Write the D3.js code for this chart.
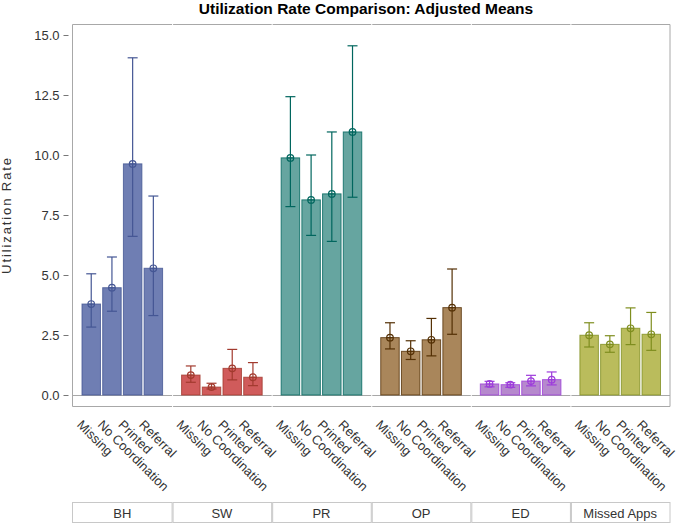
<!DOCTYPE html>
<html>
<head>
<meta charset="utf-8">
<script src="https://cdn.jsdelivr.net/npm/d3@7"></script>
<style>
  html, body { margin: 0; padding: 0; background: #fff; }
  svg { display: block; font-family: "Liberation Sans", Arial, sans-serif; }
</style>
</head>
<body>
<svg id="chart" width="685" height="524"></svg>
<script>
// ---- data ----
const groups = ["BH", "SW", "PR", "OP", "ED", "Missed Apps"];
const types = ["Missing", "No Coordination", "Printed", "Referral"];
const meanRates = [
  [3.79, 4.47, 9.63, 5.28],
  [0.83, 0.33, 1.11, 0.74],
  [9.88, 8.13, 8.38, 10.96],
  [2.39, 1.82, 2.30, 3.64],
  [0.46, 0.43, 0.58, 0.64],
  [2.49, 2.11, 2.78, 2.53]
];
const lowerCL = [
  [2.83, 3.49, 6.61, 3.31],
  [0.53, 0.25, 0.63, 0.39],
  [7.85, 6.65, 6.40, 8.24],
  [1.92, 1.48, 1.63, 2.53],
  [0.34, 0.32, 0.38, 0.42],
  [2.00, 1.78, 2.10, 1.86]
];
const upperCL = [
  [5.05, 5.75, 14.05, 8.29],
  [1.21, 0.49, 1.90, 1.35],
  [12.43, 10.00, 10.96, 14.55],
  [3.01, 2.26, 3.19, 5.25],
  [0.57, 0.51, 0.82, 0.96],
  [3.01, 2.47, 3.63, 3.44]
];
const yTicks = [0, 2.5, 5, 7.5, 10, 12.5, 15];
const fillColors = ["#6F7EB3", "#D05B5B", "#66A5A0", "#A9865B", "#B689CD", "#BABC5C"];
const lineColors = ["#445694", "#A23A2E", "#01665E", "#543005", "#9D3CDB", "#7F8E1F"];

// ---- layout ----
const svg = d3.select("#chart");
const plotLeft = 72.5, plotRight = 670, plotTop = 24.5, plotBottom = 406.5, zeroY = 395;
const frameColor = "#A8A8A8";
const textColor = "#333";

const x0 = d3.scaleBand().domain(groups).range([plotLeft, plotRight]).padding(0);
const x1 = d3.scaleBand().domain(types).range([9, x0.bandwidth() - 9]).paddingInner(0.06).paddingOuter(0);
const y = d3.scaleLinear().domain([0, 15]).range([zeroY, 35]);

// title
svg.append("text")
  .attr("x", 366).attr("y", 14)
  .attr("text-anchor", "middle")
  .attr("font-weight", "bold").attr("font-size", 15.5)
  .attr("fill", "#000")
  .text("Utilization Rate Comparison: Adjusted Means");

// y axis label
svg.append("text")
  .attr("transform", `translate(10.5,${(35 + zeroY) / 2}) rotate(-90)`)
  .attr("text-anchor", "middle")
  .attr("font-size", 13).attr("letter-spacing", 1.9).attr("fill", textColor)
  .text("Utilization Rate");

// y axis ticks
const yAxis = d3.axisLeft(y).tickValues(yTicks).tickFormat(d3.format(".1f")).tickSize(5).tickPadding(4);
const yg = svg.append("g").attr("transform", "translate(68.5,0)").call(yAxis);
yg.select(".domain").remove();
yg.selectAll(".tick line").attr("stroke", "#777");
yg.selectAll(".tick text").attr("font-size", 13).attr("fill", textColor).attr("font-family", "Liberation Sans, Arial, sans-serif");

// frame lines
svg.append("line").attr("x1", plotLeft).attr("x2", plotLeft).attr("y1", plotTop).attr("y2", plotBottom).attr("stroke", frameColor);
svg.append("line").attr("x1", plotRight).attr("x2", plotRight).attr("y1", plotTop).attr("y2", plotBottom).attr("stroke", frameColor);

groups.forEach((g, gi) => {
  const gx = x0(g);
  const panel = svg.append("g").attr("transform", `translate(${gx},0)`);
  const w = x0.bandwidth();
  [plotTop, zeroY + 0.5, plotBottom].forEach(yy => {
    panel.append("line").attr("x1", gi === 0 ? 0 : 1).attr("x2", w).attr("y1", yy).attr("y2", yy).attr("stroke", frameColor);
  });

  types.forEach((t, ti) => {
    const bx = x1(t), bw = x1.bandwidth();
    const cx = bx + bw / 2;
    const m = meanRates[gi][ti], lo = lowerCL[gi][ti], hi = upperCL[gi][ti];
    panel.append("rect")
      .attr("x", bx + 0.5).attr("y", y(m))
      .attr("width", bw - 1).attr("height", y(0) - y(m))
      .attr("fill", fillColors[gi])
      .attr("stroke", lineColors[gi]).attr("stroke-width", 1).attr("stroke-opacity", 0.8);
    const eg = panel.append("g").attr("stroke", lineColors[gi]).attr("stroke-width", 1.2).attr("fill", "none");
    eg.append("line").attr("x1", cx).attr("x2", cx).attr("y1", y(lo)).attr("y2", y(hi));
    eg.append("line").attr("x1", cx - 5).attr("x2", cx + 5).attr("y1", y(lo)).attr("y2", y(lo));
    eg.append("line").attr("x1", cx - 5).attr("x2", cx + 5).attr("y1", y(hi)).attr("y2", y(hi));
    eg.append("circle").attr("cx", cx).attr("cy", y(m)).attr("r", 3.3);
    eg.append("line").attr("x1", cx - 3.3).attr("x2", cx + 3.3).attr("y1", y(m)).attr("y2", y(m));

    // category label
    panel.append("text")
      .attr("transform", `translate(${cx - 8.5},${419}) rotate(45)`)
      .attr("font-size", 13).attr("fill", textColor)
      .attr("dy", "0.71em")
      .text(t);
  });

  // strip label box
  svg.append("rect")
    .attr("x", gx + (gi === 0 ? 0 : 1)).attr("y", 502.5)
    .attr("width", w - (gi === 0 ? 0 : 1)).attr("height", 20)
    .attr("fill", "#fff").attr("stroke", "#C8C8C8");
  svg.append("text")
    .attr("x", gx + w / 2).attr("y", 517.5)
    .attr("text-anchor", "middle")
    .attr("font-size", 13).attr("fill", textColor)
    .text(g);
});
</script>
</body>
</html>
